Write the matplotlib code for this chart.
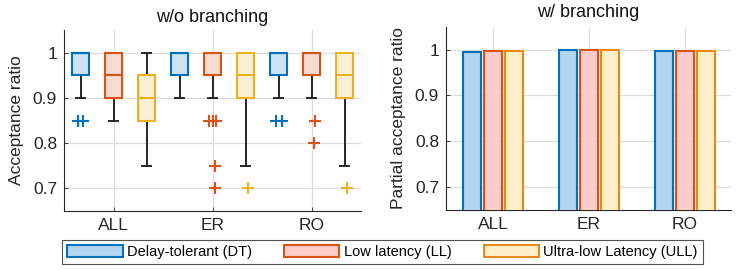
import matplotlib
matplotlib.use("Agg")
import matplotlib.pyplot as plt
from matplotlib.patches import Patch

plt.rcParams['font.family'] = ['Liberation Sans', 'DejaVu Sans']

# data
groups = ['ALL', 'ER', 'RO']
classes = ['Delay-tolerant (DT)', 'Low latency (LL)', 'Ultra-low Latency (ULL)']

# boxplot stats, order: ALL-DT, ALL-LL, ALL-ULL, ER-DT, ER-LL, ER-ULL, RO-DT, RO-LL, RO-ULL
box_q1 = [0.95, 0.90, 0.85, 0.95, 0.95, 0.90, 0.95, 0.95, 0.90]
box_med = [1.00, 0.95, 0.90, 1.00, 1.00, 0.95, 1.00, 1.00, 0.95]
box_q3 = [1.00, 1.00, 0.95, 1.00, 1.00, 1.00, 1.00, 1.00, 1.00]
box_whislo = [0.90, 0.85, 0.75, 0.90, 0.90, 0.75, 0.90, 0.90, 0.75]
box_whishi = [1.00, 1.00, 1.00, 1.00, 1.00, 1.00, 1.00, 1.00, 1.00]
box_fliers = [[0.85, 0.85], [], [], [], [0.85, 0.85, 0.85, 0.75, 0.70], [0.70],
              [0.85, 0.85], [0.85, 0.80], [0.70]]
flier_jitter = [[-0.09, 0.09], [], [], [], [-0.11, 0.02, 0.1, 0.09, 0.09], [0.09],
                [-0.07, 0.11], [0.1, 0.07], [0.08]]

# partial acceptance ratio (w/ branching), per class across groups
bar_dt = [0.9956, 0.9995, 0.9966]
bar_ll = [0.9980, 0.9985, 0.9960]
bar_ull = [0.9980, 0.9985, 0.9960]

ytick_vals = [0.7, 0.8, 0.9, 1.0]
ytick_labels = ['0.7', '0.8', '0.9', '1']

box_edge = ['#0072BD', '#D95319', '#EDB120']
box_face = ['#cde3f2', '#f8dcd1', '#fbf0d3']
bar_edge = ['#0072BD', '#D95319', '#E8891A']
bar_face = ['#b3d6f0', '#ffcccc', '#fff0c8']
txt = '#262626'
gridc = '#dedede'

fig = plt.figure(figsize=(7.47, 2.70), dpi=100)
ax1 = fig.add_axes([0.0857, 0.2185, 0.3976, 0.6704])
ax2 = fig.add_axes([0.597, 0.2222, 0.3816, 0.6790])


def style_axes(ax):
    for s in ['top', 'right']:
        ax.spines[s].set_visible(False)
    for s in ['left', 'bottom']:
        ax.spines[s].set_color(txt)
        ax.spines[s].set_linewidth(0.8)
    ax.grid(True, color=gridc, linewidth=0.9)
    ax.set_axisbelow(True)
    ax.tick_params(direction='in', length=3, width=0.6, colors=txt, labelsize=12.5, pad=5)
    ax.set_ylim(0.65, 1.05)
    ax.set_yticks(ytick_vals)
    ax.set_yticklabels(ytick_labels)


# left: boxplots
stats = []
for i in range(len(box_q1)):
    stats.append(dict(q1=box_q1[i], med=box_med[i], q3=box_q3[i],
                      whislo=box_whislo[i], whishi=box_whishi[i], fliers=[]))
positions = list(range(1, len(stats) + 1))
bp = ax1.bxp(stats, positions=positions, widths=0.52, patch_artist=True,
             showfliers=False, whiskerprops=dict(color=txt, linewidth=1.4),
             capprops=dict(color=txt, linewidth=1.4), capwidths=0.28)
for i, b in enumerate(bp['boxes']):
    c = i % 3
    b.set_facecolor(box_face[c])
    b.set_edgecolor(box_edge[c])
    b.set_linewidth(1.5)
    b.set_zorder(3)
for i, m in enumerate(bp['medians']):
    m.set_color(box_edge[i % 3])
    m.set_linewidth(1.5)
    m.set_zorder(4)
for i in range(len(box_fliers)):
    for v, j in zip(box_fliers[i], flier_jitter[i]):
        ax1.plot(positions[i] + j, v, marker='+', color=box_edge[i % 3],
                 markersize=8, mew=1.5, linestyle='none', zorder=5)

style_axes(ax1)
ax1.set_xlim(0.5, 9.5)
ax1.set_xticks([2, 5, 8])
ax1.set_xticklabels(groups)
ax1.set_ylabel('Acceptance ratio', fontsize=12.5, color=txt, labelpad=6)
ax1.set_title('w/o branching', fontsize=13, color='#111111', pad=6)

# right: bars
x = [1, 2, 3]
off = 0.22
w = 0.185
for k, vals in enumerate([bar_dt, bar_ll, bar_ull]):
    ax2.bar([xi + (k - 1) * off for xi in x], vals, width=w, color=bar_face[k],
            edgecolor=bar_edge[k], linewidth=1.5, zorder=3)
style_axes(ax2)
ax2.set_xlim(0.51, 3.48)
ax2.set_xticks(x)
ax2.set_xticklabels(groups)
ax2.set_ylabel('Partial acceptance ratio', fontsize=12.5, color=txt, labelpad=6)
ax2.set_title('w/ branching', fontsize=13, color='#111111', pad=7)

handles = [Patch(facecolor=bar_face[k], edgecolor=bar_edge[k], linewidth=1.5, label=classes[k])
           for k in range(3)]
leg = fig.legend(handles=handles, loc='center', bbox_to_anchor=(0.512, 0.0667), ncol=3,
                 fontsize=10.5, frameon=True, fancybox=False, edgecolor=txt,
                 handlelength=3.8, handleheight=0.85, handletextpad=0.3,
                 columnspacing=2.2, borderpad=0.35, borderaxespad=0)
leg.get_frame().set_linewidth(0.8)

fig.savefig('out.png', dpi=100)
